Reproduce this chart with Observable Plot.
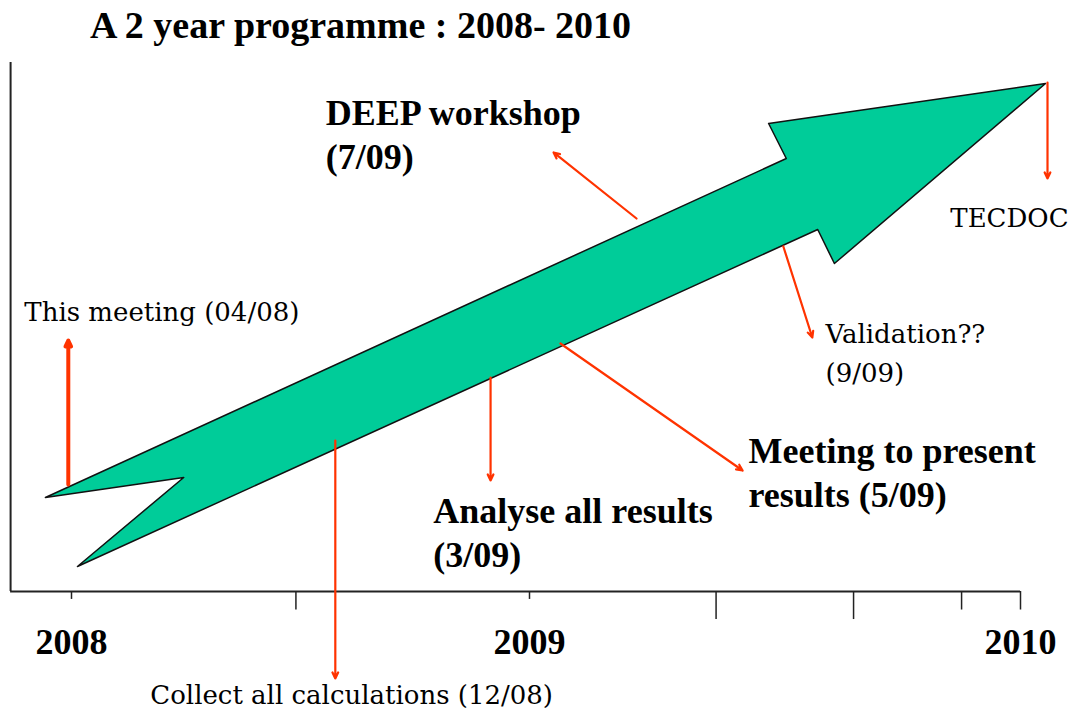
<!DOCTYPE html>
<html>
<head>
<meta charset="utf-8">
<script src="https://cdn.jsdelivr.net/npm/d3@7"></script>
<script src="https://cdn.jsdelivr.net/npm/@observablehq/plot@0.6"></script>
<style>
  body { margin: 0; background: #fff; }
  #title {
    height: 50px; line-height: 50px; padding-left: 90px;
    font-family: "Liberation Serif", serif; font-size: 38px; font-weight: bold;
    color: #000; white-space: nowrap;
  }
  #chart svg { display: block; }
</style>
</head>
<body>
<div id="title">A 2 year programme : 2008- 2010</div>
<div id="chart"></div>
<script>
// ---- data (x = time in years, y = programme progress, arbitrary 0–100) ----
const yearLabels = ["2008", "2009", "2010"];
const yearValues = [2008, 2009, 2010];

const tickYears  = [2008, 2008.49, 2009, 2009.38, 2009.66, 2009.88, 2010];
const tickLevels = [1, 2, 1, 3, 3, 2, 2];
const axisStartYear = 2007.867;

// outline of the big programme arrow
const arrowYear     = [2007.943, 2009.523, 2009.487, 2010.051, 2009.621, 2009.587, 2008.013, 2008.245];
const arrowProgress = [17.77,    81.85,    88.47,    96.03,    62.0,     68.43,    4.73,     21.55];

// milestones
const events = [
  "This meeting (04/08)",
  "Collect all calculations (12/08)",
  "Analyse all results\n(3/09)",
  "Meeting to present\nresults (5/09)",
  "DEEP workshop\n(7/09)",
  "Validation??\n(9/09)",
  "TECDOC"
];
const eventKind = ["current", "minor", "major", "major", "major", "minor", "minor"];
const pointerFromYear     = [2007.993, 2008.576, 2008.915, 2009.063, 2009.218, 2009.517, 2010.055];
const pointerFromProgress = [20.23,    28.54,    40.45,    46.88,    70.51,    65.22,    96.22];
const pointerToYear       = [2007.993, 2008.576, 2008.915, 2009.434, 2009.049, 2009.576, 2010.055];
const pointerToProgress   = [47.45,    -16.45,   20.98,    22.87,    82.99,    48.01,    78.07];
const labelYear           = [2007.897, 2008.172, 2008.790, 2009.446, 2008.555, 2009.603, 2009.857];
const labelProgress       = [56.46,    -16.12,   18.66,    30.0,     93.9,     52.12,    74.05];

// ---- tables built from the arrays ----
const shape = arrowYear.map((x, i) => ({year: x, progress: arrowProgress[i]}));
const ticks = tickYears.map((x, i) => ({year: x, level: tickLevels[i]}));
const years = yearValues.map((x, i) => ({year: x, label: yearLabels[i]}));
const milestones = events.map((e, i) => ({
  label: e, kind: eventKind[i],
  x1: pointerFromYear[i], y1: pointerFromProgress[i],
  x2: pointerToYear[i], y2: pointerToProgress[i],
  lx: labelYear[i], ly: labelProgress[i]
}));

const tickLength = {1: 1.5, 2: 3.5, 3: 5.3};
const red = "#ff3300";
const axisColor = "#222";

const chart = Plot.plot({
  width: 1085,
  height: 663,
  x: {type: "linear", domain: [2008, 2009, 2010], range: [71, 529, 1020], axis: null},
  y: {type: "linear", domain: [0, 100], range: [541, 12], axis: null},
  style: {background: "white", overflow: "visible"},
  marks: [
    Plot.line(shape, {x: "year", y: "progress", curve: "linear-closed",
      fill: "#00cc99", stroke: "#111", strokeWidth: 1.5}),
    Plot.ruleX([axisStartYear], {y1: 0, y2: 100, stroke: axisColor, strokeWidth: 2}),
    Plot.ruleY([0], {x1: axisStartYear, x2: 2010, stroke: axisColor, strokeWidth: 2}),
    Plot.ruleX(ticks, {x: "year", y1: 0, y2: d => -tickLength[d.level], stroke: axisColor, strokeWidth: 1.5}),
    Plot.text(years, {x: "year", y: -9.55, text: "label", textAnchor: "middle", lineAnchor: "middle",
      fontFamily: "Liberation Serif", fontWeight: "bold", fontSize: 36, fill: "#000"}),
    Plot.arrow(milestones, {x1: "x1", y1: "y1", x2: "x2", y2: "y2", stroke: red,
      strokeWidth: d => d.kind === "current" ? 4 : 2.2, headLength: 10, headAngle: 50}),
    Plot.text(milestones.filter(d => d.kind === "major"), {x: "lx", y: "ly", text: "label",
      textAnchor: "start", lineAnchor: "top", lineHeight: 1.2,
      fontFamily: "Liberation Serif", fontWeight: "bold", fontSize: 36, fill: "#000"}),
    Plot.text(milestones.filter(d => d.kind !== "major"), {x: "lx", y: "ly", text: "label",
      textAnchor: "start", lineAnchor: "top", lineHeight: 1.5,
      fontFamily: "DejaVu Serif", fontSize: 26, fill: "#000"})
  ]
});
document.getElementById("chart").appendChild(chart);
</script>
</body>
</html>
